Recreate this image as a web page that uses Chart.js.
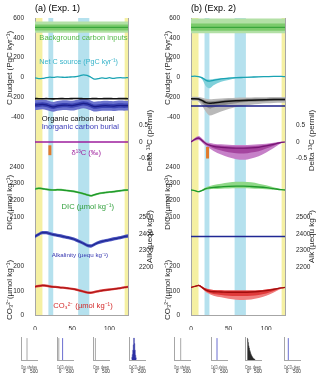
<!DOCTYPE html>
<html><head><meta charset="utf-8">
<script src="https://cdn.jsdelivr.net/npm/chart.js@4.4.1/dist/chart.umd.min.js"></script>
<style>
html,body{margin:0;padding:0;background:#fff;width:320px;height:377px;overflow:hidden;position:relative}
canvas{position:absolute}
</style></head><body>
<canvas id="pa" width="160" height="330" style="left:0;top:0"></canvas>
<canvas id="pb" width="160" height="330" style="left:160px;top:0"></canvas>
<script>
// ---------------- DATA ----------------
const xA = [0,5,10,15,20,25,30,35,40,45,50,55,60,65,70,75,80,85,90,95,100,105,110,115,120,125];
const xB = [0,5,10,15,20,25,30,40,50,60,70,80,90,100,110,120,125];
const xEnds = [0,125];
const xTicks = [0,50,100];
const cTicks = [600,400,200,0,-200,-400];
const d13Ticks = [0.5,0,-0.5];
const dicTicks = [2400,2300,2200,2100];
const alkTicks = [2500,2400,2300,2200];
const co3Ticks = [200,100,0];
const periodStart = [0,18,58,120.5];
const periodEnd = [10,24.5,73,125];

// Panel (a)
const bgMidA = [505,505], bgInHiA = [535,535], bgInLoA = [475,475], bgOutHiA = [565,565], bgOutLoA = [450,450];
const netSourceA = [-5,-12,-10,-3,2,0,5,3,0,3,5,8,15,25,20,2,-18,-12,-5,-10,-3,-10,-5,-3,-5,-2];
const orgBurialA = [-214,-215,-216,-214,-216,-217,-215,-214,-215,-215,-214,-213,-214,-215,-216,-215,-214,-215,-215,-214,-214,-215,-215,-214,-214,-215];
const inorgMidA = [-280,-276,-272,-278,-290,-298,-288,-282,-280,-282,-285,-278,-270,-262,-268,-282,-295,-292,-288,-286,-288,-290,-286,-284,-286,-285];
const inorgHiOutA = [-230,-226,-222,-228,-240,-248,-238,-232,-230,-232,-235,-228,-220,-212,-218,-232,-245,-242,-238,-236,-238,-240,-236,-234,-236,-235];
const inorgLoOutA = [-330,-326,-322,-328,-340,-348,-338,-332,-330,-332,-335,-328,-320,-312,-318,-332,-345,-342,-338,-336,-338,-340,-336,-334,-336,-335];
const inorgHiInA = [-258,-254,-250,-256,-268,-276,-266,-260,-258,-260,-263,-256,-248,-240,-246,-260,-273,-270,-266,-264,-266,-268,-264,-262,-264,-263];
const inorgLoInA = [-302,-298,-294,-300,-312,-320,-310,-304,-302,-304,-307,-300,-292,-284,-290,-304,-317,-314,-310,-308,-310,-312,-308,-306,-308,-307];
const d13A = [0,0];
const markerXA = [20,20], markerYA = [-0.1,-0.4];
const dicMidA = [2268,2272,2270,2266,2263,2262,2264,2263,2260,2258,2255,2251,2246,2240,2233,2228,2234,2240,2244,2247,2250,2252,2255,2258,2261,2262];
const dicHiA = [2274,2278,2276,2272,2269,2268,2270,2269,2266,2264,2261,2257,2252,2246,2239,2234,2240,2246,2250,2253,2256,2258,2261,2264,2267,2268];
const dicLoA = [2262,2266,2264,2260,2257,2256,2258,2257,2254,2252,2249,2245,2240,2234,2227,2222,2228,2234,2238,2241,2244,2246,2249,2252,2255,2256];
const alkMidA = [2385,2398,2408,2408,2402,2396,2392,2388,2383,2378,2372,2364,2354,2344,2332,2328,2338,2348,2355,2360,2365,2370,2374,2378,2384,2388];
const alkHiA = [2395,2408,2418,2418,2412,2406,2402,2398,2393,2388,2382,2374,2364,2354,2342,2338,2348,2358,2365,2370,2375,2380,2384,2388,2394,2398];
const alkLoA = [2375,2388,2398,2398,2392,2386,2382,2378,2373,2368,2362,2354,2344,2334,2322,2318,2328,2338,2345,2350,2355,2360,2364,2368,2374,2378];
const co3MidA = [117,120,122,121,118,116,115,113,112,110,108,105,101,97,93,92,95,98,101,103,105,107,109,111,114,116];
const co3HiA = [122,125,127,126,123,121,120,118,117,115,113,110,106,102,98,97,100,103,106,108,110,112,114,116,119,121];
const co3LoA = [112,115,117,116,113,111,110,108,107,105,103,100,96,92,88,87,90,93,96,98,100,102,104,106,109,111];

// Panel (b)
const bgMidB = [505,505], bgInHiB = [545,545], bgInLoB = [470,470], bgOutHiB = [595,595], bgOutLoB = [445,445];
const netMidB = [10,12,8,-5,-30,-38,-30,-15,-8,-3,0,3,6,8,10,10,8];
const netHiB = [12,14,10,0,-15,-20,-15,-8,-3,0,3,6,9,11,12,12,10];
const netLoB = [8,10,5,-20,-90,-110,-80,-45,-25,-12,-5,0,3,5,7,7,5];
const orgMidB = [-215,-215,-218,-235,-255,-262,-258,-248,-240,-235,-232,-230,-228,-226,-224,-222,-222];
const orgHiB = [-195,-195,-198,-205,-215,-220,-218,-212,-208,-205,-203,-202,-200,-200,-199,-198,-198];
const orgLoB = [-235,-237,-245,-290,-350,-385,-375,-345,-320,-300,-285,-275,-268,-262,-258,-255,-255];
const orgHi2B = [-205,-205,-208,-220,-235,-240,-238,-230,-224,-220,-218,-216,-214,-213,-211,-210,-210];
const orgLo2B = [-225,-226,-230,-260,-295,-315,-305,-285,-270,-260,-252,-247,-244,-240,-238,-236,-236];
const inorgB = [-290,-290];
const d13MidB = [0,0.08,0.12,0.04,-0.05,-0.1,-0.13,-0.16,-0.18,-0.19,-0.19,-0.18,-0.16,-0.12,-0.07,-0.01,0];
const d13HiB = [0.02,0.12,0.18,0.1,0,-0.03,-0.05,-0.07,-0.08,-0.09,-0.09,-0.08,-0.07,-0.05,-0.02,0.01,0.01];
const d13LoB = [-0.02,0.04,0.06,-0.02,-0.12,-0.2,-0.27,-0.38,-0.46,-0.52,-0.54,-0.5,-0.43,-0.32,-0.18,-0.04,-0.01];
const d13Hi2B = [0.01,0.1,0.15,0.07,-0.03,-0.07,-0.09,-0.11,-0.13,-0.14,-0.14,-0.13,-0.11,-0.08,-0.04,0,0];
const d13Lo2B = [-0.01,0.06,0.09,0.01,-0.08,-0.14,-0.19,-0.26,-0.31,-0.34,-0.35,-0.32,-0.28,-0.2,-0.11,-0.02,0];
const markerXB = [22,22], markerYB = [-0.15,-0.5];
const dicMidB = [2262,2258,2252,2260,2270,2275,2278,2281,2284,2285,2285,2283,2280,2276,2270,2264,2262];
const dicHiB = [2264,2260,2255,2265,2278,2286,2292,2300,2307,2311,2312,2308,2300,2290,2279,2267,2264];
const dicLoB = [2260,2256,2249,2256,2264,2267,2268,2270,2271,2272,2272,2271,2269,2267,2264,2261,2260];
const alkB = [2385,2385];
const co3MidB = [114,118,122,113,103,98,96,95,94,94,94,95,97,101,106,112,114];
const co3HiB = [116,120,125,118,109,105,103,102,101,101,101,101,102,105,109,114,115];
const co3LoB = [112,116,119,108,94,86,80,73,67,63,62,64,70,80,93,108,112];
const co3Lo2B = [113,117,120,110,98,91,87,83,80,78,78,79,83,89,99,110,113];

// Histograms
const histNames = ['Org. shelves','CaCO\u2083 shelves','Org. deep','CaCO\u2083 deep'];
const histTicks = [0,500];
const spikeGrayA = [150,-60,-30,null];
const spikeBlueA = [null,130,null,null];
const distXA4 = [-25,0,25,50,75,100,125,150,175,200,225];
const distYA4 = [0.05,0.12,0.25,0.45,0.7,1.0,0.75,0.45,0.22,0.1,0.04];
const spikeGrayB = [185,null,null,null];
const spikeBlueB = [null,150,null,65];
const distXB3 = [-40,-15,10,35,60,85,110,135,160,185,210,235,260,285,310,335,360];
const distYB3 = [1.0,0.95,0.8,0.65,0.55,0.45,0.38,0.3,0.24,0.19,0.15,0.11,0.08,0.06,0.04,0.03,0.02];

// ---------------- STYLE / LAYOUT ----------------
const FONT = "'Liberation Sans', Arial, Helvetica, sans-serif";
Chart.defaults.font.family = FONT;
const AXIS_COLOR = '#a6a6a6';
const TICK_COLOR = '#262626';
const PERIOD_COLORS = ['#f5f0a2','#b5e1ee','#b5e1ee','#f5f0a2'];

function pts(xs, ys) { return xs.map((x, i) => ({x: x, y: ys[i]})); }
function lineDs(xs, ys, axis, color, width, order, tension) {
  return {data: pts(xs, ys), yAxisID: axis, borderColor: color, borderWidth: width,
    pointRadius: 0, fill: false, tension: tension || 0, cubicInterpolationMode: 'monotone', order: order || 1, borderCapStyle: 'butt'};
}
function bandDs(xs, hi, lo, axis, color, order, tension) {
  const c = {yAxisID: axis, borderColor: 'rgba(0,0,0,0)', borderWidth: 0, pointRadius: 0,
    tension: tension || 0, cubicInterpolationMode: 'monotone', order: order};
  return [Object.assign({data: pts(xs, hi), fill: false}, c),
          Object.assign({data: pts(xs, lo), fill: '-1', backgroundColor: color}, c)];
}

function yAx(pos, weight, min, max, ticks, width, title, titlePad) {
  return {
    type: 'linear', position: pos, stack: pos, stackWeight: weight, min: min, max: max,
    grid: {display: false},
    border: {display: true, color: AXIS_COLOR, width: 1},
    ticks: {display: ticks.length > 0, font: {size: 6.5}, color: TICK_COLOR, padding: 3, autoSkip: false,
      callback: v => String(v)},
    afterBuildTicks: s => { s.ticks = ticks.map(v => ({value: v})); },
    afterFit: s => { s.width = width; },
    title: title ? {display: true, text: title, font: {size: 8}, color: TICK_COLOR, padding: {top: titlePad, bottom: 0}} : {display: false}
  };
}

const annotPlugin = {
  id: 'annot',
  beforeDraw(chart) {
    const {ctx, chartArea: a, scales} = chart;
    ctx.save();
    periodStart.forEach((s, i) => {
      const x0 = scales.x.getPixelForValue(s), x1 = scales.x.getPixelForValue(periodEnd[i]);
      ctx.fillStyle = PERIOD_COLORS[i];
      ctx.fillRect(x0, a.top, x1 - x0, a.bottom - a.top);
    });
    ctx.restore();
  },
  afterDatasetsDraw(chart, args, opts) {
    const ctx = chart.ctx;
    ctx.save();
    ctx.textBaseline = 'middle'; ctx.textAlign = 'left';
    (opts.labels || []).forEach(l => {
      ctx.font = l.size + 'px ' + FONT;
      ctx.fillStyle = l.color;
      ctx.fillText(l.text, chart.scales.x.getPixelForValue(l.x), chart.scales[l.axis].getPixelForValue(l.y));
    });
    ctx.restore();
  },
  afterDraw(chart, args, opts) {
    const ctx = chart.ctx;
    (opts.rightTitles || []).forEach(r => {
      const s = chart.scales[r.axis];
      ctx.save();
      ctx.translate(r.x, (s.top + s.bottom) / 2);
      ctx.rotate(-Math.PI / 2);
      ctx.textAlign = 'center'; ctx.textBaseline = 'middle';
      ctx.font = '8px ' + FONT; ctx.fillStyle = TICK_COLOR;
      ctx.fillText(r.text, 0, 0);
      ctx.restore();
    });
  }
};

function panel(canvasId, P) {
  const LW = P.lw, RW = P.rw;
  // left stacked axes are placed bottom-first, right stacked axes top-first
  return new Chart(document.getElementById(canvasId), {
    type: 'line',
    data: {datasets: P.datasets},
    options: {
      responsive: false, animation: false, devicePixelRatio: 1,
      layout: {padding: 0},
      plugins: {
        legend: {display: false}, tooltip: {enabled: false},
        title: {display: true, text: P.title, align: 'start', fullSize: false,
          font: {size: 9, weight: 'normal'}, color: '#000', padding: {top: 3, bottom: 4.2}},
        annot: {labels: P.labels, rightTitles: P.rightTitles}
      },
      scales: {
        x: {type: 'linear', position: 'bottom', min: 0, max: 125,
          grid: {display: false}, border: {display: true, color: AXIS_COLOR},
          ticks: {font: {size: 6.5}, color: TICK_COLOR, padding: 2, autoSkip: false, maxRotation: 0, callback: v => String(v)},
          afterBuildTicks: s => { s.ticks = xTicks.map(v => ({value: v})); },
          afterFit: s => { s.height = 15; }},
        yCO3: yAx('left', 50, 0, 206.5, co3Ticks, LW, 'CO\u2083\u00B2\u207B(\u00B5mol kg\u207B\u00B9)', P.ltPad),
        sL2: yAx('left', 20, 0, 1, [], LW),
        yDIC: yAx('left', 85, 1932, 2442, dicTicks, LW, 'DIC (\u00B5mol kg\u207B\u00B9)', P.ltPad),
        sL1: yAx('left', 42, 0, 1, [], LW),
        yC: yAx('left', 100, -410, 600, cTicks, LW, 'C budget (PgC kyr\u207B\u00B9)', P.ltPad),
        sR1: yAx('right', 95, 0, 1, [], RW),
        yD13: yAx('right', 55, -0.788, 0.879, d13Ticks, RW),
        sR2: yAx('right', 37, 0, 1, [], RW),
        yAlk: yAx('right', 63, 2196, 2574, alkTicks, RW),
        sR3: yAx('right', 47, 0, 1, [], RW)
      }
    },
    plugins: [annotPlugin]
  });
}

// ---------- Panel (a) ----------
const dsA = [].concat(
  bandDs(xEnds, bgOutHiA, bgOutLoA, 'yC', '#b3e0a6', 10),
  bandDs(xEnds, bgInHiA, bgInLoA, 'yC', '#7ccb6c', 9),
  [lineDs(xEnds, bgMidA, 'yC', '#3aa63c', 1.2)],
  [lineDs(xA, netSourceA, 'yC', '#1aa3b3', 1.3, 1, 0.3)],
  bandDs(xA, inorgHiOutA, inorgLoOutA, 'yC', '#6c74cf', 10, 0.3),
  bandDs(xA, inorgHiInA, inorgLoInA, 'yC', '#3a42b2', 9, 0.3),
  [lineDs(xA, inorgMidA, 'yC', '#1b1e88', 1.2, 1, 0.3)],
  [lineDs(xA, orgBurialA, 'yC', '#111111', 1.6, 1, 0.3)],
  [lineDs(xEnds, d13A, 'yD13', '#9c1e9c', 1.5)],
  [lineDs(markerXA, markerYA, 'yD13', '#e07a2c', 3)],
  bandDs(xA, dicHiA, dicLoA, 'yDIC', '#6cc66c', 10, 0.3),
  [lineDs(xA, dicMidA, 'yDIC', '#1f992a', 1.2, 1, 0.3)],
  bandDs(xA, alkHiA, alkLoA, 'yAlk', '#4a54bf', 10, 0.3),
  [lineDs(xA, alkMidA, 'yAlk', '#202894', 1.2, 1, 0.3)],
  bandDs(xA, co3HiA, co3LoA, 'yCO3', '#e04848', 10, 0.3),
  [lineDs(xA, co3MidA, 'yCO3', '#ad1515', 1.2, 1, 0.3)]
);
panel('pa', {
  title: '(a) (Exp. 1)', lw: 35, rw: 32, ltPad: 4.5, datasets: dsA,
  labels: [
    {text: 'Background carbon inputs', x: 5.8, y: 395, axis: 'yC', color: '#55b84a', size: 7.6},
    {text: 'Net C source (PgC kyr\u207B\u00B9)', x: 5.8, y: 159, axis: 'yC', color: '#36b3c9', size: 7.2},
    {text: 'Organic carbon burial', x: 9, y: -423, axis: 'yC', color: '#111111', size: 7.6},
    {text: 'Inorganic carbon burial', x: 9, y: -504, axis: 'yC', color: '#3a3ab8', size: 7.6},
    {text: '\u03B4\u00B9\u00B3C (\u2030)', x: 49, y: -0.324, axis: 'yD13', color: '#a0259f', size: 7.6},
    {text: 'DIC (\u00B5mol kg\u207B\u00B9)', x: 35.7, y: 2162, axis: 'yDIC', color: '#2f9f3a', size: 7.6},
    {text: 'Alkalinity (\u00B5equ kg\u207B\u00B9)', x: 22.4, y: 2274, axis: 'yAlk', color: '#3636b0', size: 6.2},
    {text: 'CO\u2083\u00B2\u207B (\u00B5mol kg\u207B\u00B9)', x: 24.5, y: 37, axis: 'yCO3', color: '#d42a2a', size: 7.6}
  ],
  rightTitles: [
    {text: 'Delta \u00B9\u00B3C (permil)', axis: 'yD13', x: 150},
    {text: 'Alk (\u00B5equ kg\u207B\u00B9)', axis: 'yAlk', x: 150}
  ]
});

// ---------- Panel (b) ----------
const dsB = [].concat(
  bandDs(xEnds, bgOutHiB, bgOutLoB, 'yC', '#b3e0a6', 10),
  bandDs(xEnds, bgInHiB, bgInLoB, 'yC', '#7ccb6c', 9),
  [lineDs(xEnds, bgMidB, 'yC', '#3aa63c', 1.2)],
  bandDs(xB, netHiB, netLoB, 'yC', '#7fd0da', 10, 0.3),
  [lineDs(xB, netMidB, 'yC', '#1aa3b3', 1.3, 1, 0.3)],
  bandDs(xB, orgHiB, orgLoB, 'yC', '#b9b9b9', 10, 0.3),
  bandDs(xB, orgHi2B, orgLo2B, 'yC', '#8a8a8a', 9, 0.3),
  [lineDs(xB, orgMidB, 'yC', '#111111', 1.5, 1, 0.3)],
  [lineDs(xEnds, inorgB, 'yC', '#1b1e88', 1.5)],
  bandDs(xB, d13HiB, d13LoB, 'yD13', '#c680c8', 10, 0.3),
  bandDs(xB, d13Hi2B, d13Lo2B, 'yD13', '#a5459f', 9, 0.3),
  [lineDs(xB, d13MidB, 'yD13', '#761574', 1.2, 1, 0.3)],
  [lineDs(markerXB, markerYB, 'yD13', '#e07a2c', 3)],
  bandDs(xB, dicHiB, dicLoB, 'yDIC', '#8fd888', 10, 0.3),
  [lineDs(xB, dicMidB, 'yDIC', '#1f992a', 1.3, 1, 0.3)],
  [lineDs(xEnds, alkB, 'yAlk', '#202894', 1.5)],
  bandDs(xB, co3HiB, co3LoB, 'yCO3', '#f08080', 10, 0.3),
  bandDs(xB, co3HiB, co3Lo2B, 'yCO3', '#e03a3a', 9, 0.3),
  [lineDs(xB, co3MidB, 'yCO3', '#a00d0d', 1.3, 1, 0.3)]
);
panel('pb', {
  title: '(b) (Exp. 2)', lw: 31, rw: 35, ltPad: 3, datasets: dsB, labels: [],
  rightTitles: [
    {text: 'Delta \u00B9\u00B3C (permil)', axis: 'yD13', x: 152},
    {text: 'Alk (\u00B5equ kg\u207B\u00B9)', axis: 'yAlk', x: 152}
  ]
});

// ---------- Histograms ----------
const HIST_AXIS_A = [21, 57, 93, 129];
const HIST_AXIS_B = [174, 211, 245, 284];
function histChart(axisX, name, gray, blue, dist, distColor) {
  const c = document.createElement('canvas');
  c.width = 40; c.height = 45;
  c.style.left = (axisX - 10) + 'px'; c.style.top = '332px';
  document.body.appendChild(c);
  const ds = [];
  if (dist) ds.push({data: pts(dist[0], dist[1]), fill: 'origin', backgroundColor: distColor,
    borderColor: distColor, borderWidth: 0.5, pointRadius: 0, stepped: 'middle'});
  if (gray !== null) ds.push({data: pts([gray, gray], [0, 1]), borderColor: '#a8a8a8', borderWidth: 1, pointRadius: 0, fill: false});
  if (blue !== null) ds.push({data: pts([blue, blue], [0, 1]), borderColor: '#6a6ed0', borderWidth: 1, pointRadius: 0, fill: false});
  new Chart(c, {
    type: 'line', data: {datasets: ds},
    options: {
      responsive: false, animation: false, devicePixelRatio: 1,
      layout: {padding: {left: 10, right: 14, top: 5, bottom: 0}},
      plugins: {legend: {display: false}, tooltip: {enabled: false}},
      scales: {
        x: {type: 'linear', min: -150, max: 650, grid: {display: false},
          border: {display: true, color: AXIS_COLOR},
          ticks: {font: {size: 4.8}, color: '#333', padding: 1, autoSkip: false, maxRotation: 0, callback: v => String(v)},
          afterBuildTicks: s => { s.ticks = histTicks.map(v => ({value: v})); },
          afterFit: s => { s.height = 17; },
          title: {display: true, text: name, font: {size: 4.5}, color: '#444', padding: {top: 0, bottom: 6.3}}},
        y: {type: 'linear', min: 0, max: 1.05, grid: {display: false},
          border: {display: true, color: AXIS_COLOR}, ticks: {display: false},
          afterFit: s => { s.width = 0; }}
      }
    }
  });
}
for (let i = 0; i < 4; i++) {
  histChart(HIST_AXIS_A[i], histNames[i], spikeGrayA[i], spikeBlueA[i], i === 3 ? [distXA4, distYA4] : null, '#2b2fa3');
  histChart(HIST_AXIS_B[i], histNames[i], spikeGrayB[i], spikeBlueB[i], i === 2 ? [distXB3, distYB3] : null, '#2a2a2a');
}
</script>
</body></html>
